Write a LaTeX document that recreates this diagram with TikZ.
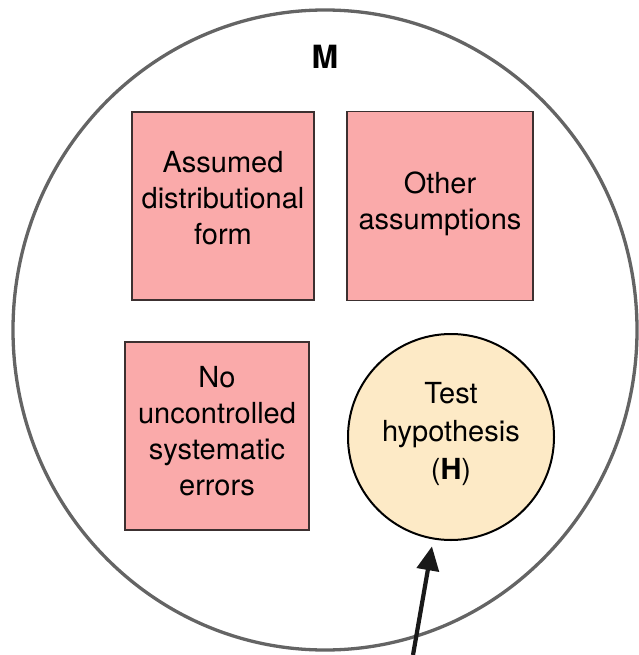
\documentclass[tikz,border=0pt]{standalone}
\usepackage{fontspec}
\setmainfont{TeX Gyre Heros}
\usetikzlibrary{arrows.meta}
\definecolor{boxpink}{RGB}{250,170,170}
\definecolor{hypcream}{RGB}{253,234,198}
\definecolor{rimgray}{RGB}{100,100,100}
\definecolor{boxedge}{RGB}{60,48,48}
\newcommand{\liftup}[1]{\rule[-#1]{0pt}{0pt}}
\begin{document}
\begin{tikzpicture}[x=1pt,y=-1pt,
    assumbox/.style={draw=boxedge, line width=1.5pt, fill=boxpink, align=center,
      font=\fontsize{29}{36}\selectfont, inner sep=0pt},
    hypcirc/.style={circle, draw=black, line width=2pt, fill=hypcream, align=center,
      font=\fontsize{29}{38}\selectfont, minimum size=206pt, inner sep=0pt}]
      \useasboundingbox (0,0) rectangle (638,655);
      \draw[rimgray, line width=3.3pt] (325,330) ellipse [x radius=312, y radius=320];
      \node[font=\fontsize{32}{36}\selectfont\bfseries] (M) at (325,57) {M};
      \node[assumbox, minimum width=182pt, minimum height=188pt] (dist) at (223,206)
        {Assumed\\distributional\\form\liftup{16pt}};
      \node[assumbox, minimum width=186pt, minimum height=189pt] (other) at (440,206)
        {Other\\assumptions\liftup{10pt}};
      \node[assumbox, minimum width=184pt, minimum height=188pt] (syst) at (217,436)
        {No\\uncontrolled\\systematic\\errors\liftup{10pt}};
      \node[hypcirc] (H) at (451,437) {Test\\hypothesis\\(\textbf{H})\liftup{12pt}};
      \coordinate (src) at (413,655);
      \draw[-{Triangle[length=24pt,width=22pt]}, line width=4.2pt, black!90, shorten >=7pt] (src) -- (H);
    \end{tikzpicture}
\end{document}
